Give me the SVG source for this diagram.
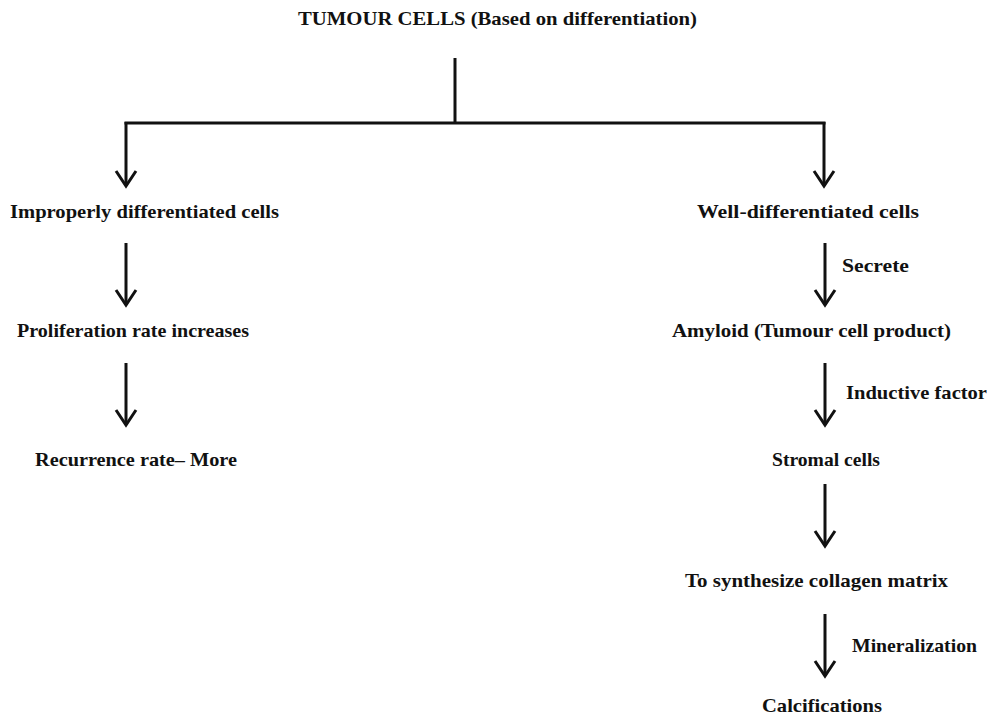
<svg xmlns="http://www.w3.org/2000/svg" width="987" height="715" viewBox="0 0 987 715">
<defs>
<style>
text{font-family:"Liberation Serif","Times New Roman",serif;font-weight:bold;font-size:19px;fill:#111;}
.ln{stroke:#111;stroke-width:3;fill:none;}
.hd{stroke:#111;stroke-width:3;fill:none;}
</style>
</defs>
<rect width="987" height="715" fill="#fff"/>
<g id="connectors">
<path class="ln" d="M455,58 V123"/>
<path class="ln" d="M124.5,123 H825.5"/>
<path class="ln" d="M126,122 V186"/>
<path class="ln" d="M824,122 V186"/>
<path class="ln" d="M126,243 V305"/>
<path class="ln" d="M126,363 V425"/>
<path class="ln" d="M825,243 V305"/>
<path class="ln" d="M825,363 V425"/>
<path class="ln" d="M825,484 V546"/>
<path class="ln" d="M825,614 V676"/>
<path class="hd" d="M116,171 L126,186 L136,171"/>
<path class="hd" d="M814,171 L824,186 L834,171"/>
<path class="hd" d="M116,290 L126,305 L136,290"/>
<path class="hd" d="M116,410 L126,425 L136,410"/>
<path class="hd" d="M815,290 L825,305 L835,290"/>
<path class="hd" d="M815,410 L825,425 L835,410"/>
<path class="hd" d="M815,531 L825,546 L835,531"/>
<path class="hd" d="M815,661 L825,676 L835,661"/>
<text x="842" y="272" textLength="67" lengthAdjust="spacingAndGlyphs">Secrete</text>
<text x="846" y="399" textLength="141" lengthAdjust="spacingAndGlyphs">Inductive factor</text>
<text x="852" y="652" textLength="125" lengthAdjust="spacingAndGlyphs">Mineralization</text>
</g>
<g id="n-title"><text x="298" y="25" textLength="399" lengthAdjust="spacingAndGlyphs">TUMOUR CELLS (Based on differentiation)</text></g>
<g id="n-improper"><text x="10" y="218" textLength="269" lengthAdjust="spacingAndGlyphs">Improperly differentiated cells</text></g>
<g id="n-prolif"><text x="17" y="337" textLength="232" lengthAdjust="spacingAndGlyphs">Proliferation rate increases</text></g>
<g id="n-recur"><text x="35" y="466" textLength="202" lengthAdjust="spacingAndGlyphs">Recurrence rate– More</text></g>
<g id="n-well"><text x="697" y="218" textLength="222" lengthAdjust="spacingAndGlyphs">Well-differentiated cells</text></g>
<g id="n-amyloid"><text x="672" y="337" textLength="279" lengthAdjust="spacingAndGlyphs">Amyloid (Tumour  cell product)</text></g>
<g id="n-stromal"><text x="772" y="466" textLength="108" lengthAdjust="spacingAndGlyphs">Stromal  cells</text></g>
<g id="n-collagen"><text x="685" y="587" textLength="263" lengthAdjust="spacingAndGlyphs">To synthesize collagen matrix</text></g>
<g id="n-calc"><text x="762" y="712" textLength="120" lengthAdjust="spacingAndGlyphs">Calcifications</text></g>
</svg>
